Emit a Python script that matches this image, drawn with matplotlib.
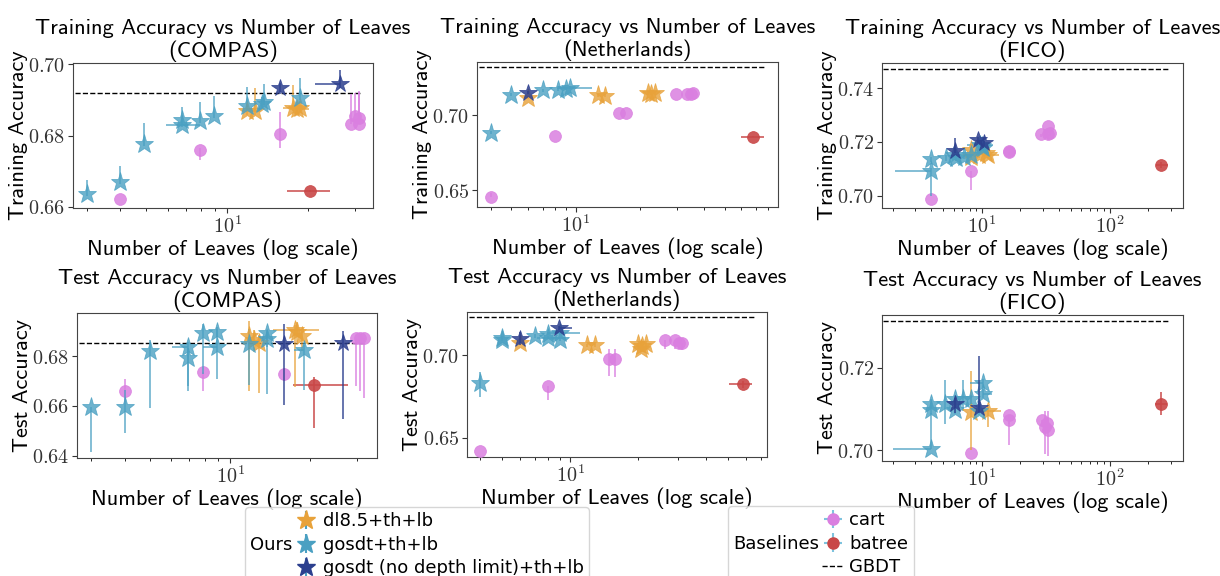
import matplotlib
matplotlib.use("Agg")
import matplotlib.pyplot as plt
from matplotlib.ticker import FuncFormatter, NullFormatter, FixedLocator
from matplotlib.offsetbox import HPacker
from matplotlib.lines import Line2D
import numpy as np

plt.rcParams['mathtext.fontset'] = 'cm'
plt.rcParams['axes.unicode_minus'] = False

# ---------------- data: (x, y, y_err_down, y_err_up, x_err_left, x_err_right)
compas_train_dl85 = [(11.9, 0.6868, 0.001, 0.002, 0.5, 0.5), (12.7, 0.6868, 0.001, 0.0065, 0.5, 0.6),
                     (17.6, 0.6878, 0.001, 0.0065, 1.5, 1.5), (18.2, 0.6874, 0.001, 0.002, 1.0, 2.0),
                     (18.7, 0.6877, 0.001, 0.002, 0.5, 0.5)]
compas_train_gosdt = [(3, 0.6634, 0.0005, 0.004, 0, 0), (4, 0.6669, 0.0005, 0.0045, 0, 0),
                      (4.9, 0.6776, 0.0005, 0.006, 0, 0), (6.8, 0.6844, 0.0005, 0.0035, 0, 0),
                      (6.8, 0.6829, 0.0005, 0.001, 0.9, 1.1), (7.9, 0.6841, 0.0005, 0.0052, 0, 0),
                      (8.9, 0.6855, 0.0005, 0.0057, 0, 0), (11.9, 0.6884, 0.0005, 0.0052, 0, 0),
                      (13.7, 0.6895, 0.001, 0.005, 0, 0), (13.5, 0.6888, 0.001, 0.002, 0, 0),
                      (18.7, 0.6906, 0.0005, 0.0055, 0, 0)]
compas_train_nodepth = [(15.8, 0.6933, 0.0015, 0.0015, 0, 0), (26.4, 0.6944, 0.001, 0.004, 5.1, 0)]
compas_train_cart = [(4, 0.6621, 0, 0, 0, 0), (7.9, 0.6760, 0.0028, 0.0005, 0, 0),
                     (15.8, 0.6803, 0.0038, 0.0062, 0, 0), (29, 0.6831, 0, 0.0085, 0, 0),
                     (30, 0.6855, 0, 0.0065, 0, 0), (31, 0.6849, 0, 0.0075, 0, 0), (31, 0.6831, 0, 0.009, 0, 0)]
compas_train_batree = [(20.4, 0.6644, 0.0002, 0.0002, 3.7, 3.8)]
compas_train_gbdt = 0.6919

neth_train_dl85 = [(6, 0.7117, 0.001, 0.001, 0, 0), (12.8, 0.7133, 0.001, 0.001, 0, 0),
                   (13.8, 0.7128, 0.001, 0.001, 0, 0), (21.9, 0.7144, 0.001, 0.001, 0, 0),
                   (23.6, 0.7144, 0.001, 0.001, 0, 0), (22.5, 0.7142, 0.001, 0.001, 0, 0)]
neth_train_gosdt = [(4, 0.6883, 0.001, 0.001, 0, 0), (5, 0.7137, 0.001, 0.001, 0, 0),
                    (7, 0.7166, 0.001, 0.001, 0, 0), (8.3, 0.7170, 0.001, 0.001, 0, 0),
                    (9.4, 0.7181, 0.001, 0.001, 1.2, 2.5), (9.0, 0.7175, 0.001, 0.001, 0, 0)]
neth_train_nodepth = [(6, 0.7150, 0.001, 0.001, 0, 0)]
neth_train_cart = [(4, 0.6456, 0, 0.0025, 0, 0), (8, 0.6858, 0, 0, 0, 0), (16, 0.7013, 0, 0, 0, 0),
                   (17.2, 0.7013, 0, 0, 0, 0), (29.6, 0.7139, 0, 0, 0, 0), (33.2, 0.7139, 0, 0, 0, 0),
                   (34.8, 0.7142, 0, 0, 0, 0), (35.7, 0.7144, 0, 0, 0, 0)]
neth_train_batree = [(68, 0.6856, 0.0005, 0.0005, 8, 8.6)]
neth_train_gbdt = 0.7321

fico_train_dl85 = [(8.2, 0.7170, 0.001, 0.001, 0, 0), (8.2, 0.7146, 0.001, 0.001, 0, 0),
                   (11.1, 0.7152, 0.001, 0.001, 1.0, 2.5), (10.8, 0.7160, 0.001, 0.001, 0, 0),
                   (9.5, 0.7150, 0.001, 0.001, 0, 0)]
fico_train_gosdt = [(4, 0.7093, 0.0093, 0.001, 1.9, 0), (4, 0.7136, 0.001, 0.001, 0, 0),
                    (5.2, 0.7140, 0.001, 0.001, 0, 0), (6.3, 0.7140, 0.001, 0.001, 0, 0),
                    (6.0, 0.7150, 0.001, 0.001, 0, 0), (7.3, 0.7146, 0.001, 0.001, 0, 0),
                    (8.2, 0.7152, 0.001, 0.001, 0, 0), (10, 0.7185, 0.001, 0.001, 0, 0),
                    (10.2, 0.7177, 0.001, 0.001, 0, 0), (9.6, 0.7190, 0.001, 0.001, 2.0, 2.5)]
fico_train_nodepth = [(6.1, 0.7168, 0.001, 0.0045, 0, 0), (9.3, 0.7207, 0.001, 0.001, 0, 0),
                      (10.4, 0.7195, 0.001, 0.001, 0, 0)]
fico_train_cart = [(4, 0.6988, 0, 0, 0, 0), (8.2, 0.7093, 0.0070, 0, 0, 0), (16.3, 0.7167, 0, 0, 0, 0),
                   (16.3, 0.7162, 0.001, 0, 0, 0), (29, 0.7230, 0.001, 0, 0, 0), (32.9, 0.7259, 0, 0, 0, 0),
                   (33, 0.7228, 0.002, 0, 0, 0), (34, 0.7232, 0.001, 0, 0, 0)]
fico_train_batree = [(254, 0.7115, 0.001, 0.001, 25, 30)]
fico_train_gbdt = 0.7472

compas_test_dl85 = [(11.8, 0.6880, 0.022, 0.006, 0, 0), (12.8, 0.6853, 0.020, 0.003, 0, 0),
                    (12.3, 0.6865, 0.004, 0.004, 0, 0), (17.5, 0.6904, 0.023, 0.002, 3, 4),
                    (18.6, 0.6880, 0.006, 0.002, 0, 0), (17.8, 0.6895, 0.004, 0.004, 0, 0)]
compas_test_gosdt = [(3, 0.6597, 0.018, 0, 0, 0), (4, 0.6597, 0.0105, 0.0067, 0, 0),
                     (4.97, 0.6821, 0.0228, 0.0045, 0, 0), (6.93, 0.6835, 0.0157, 0.002, 0.9, 0),
                     (6.93, 0.6791, 0.013, 0.004, 0, 0), (7.9, 0.6893, 0.0163, 0.0037, 0, 0),
                     (8.9, 0.6897, 0.002, 0.002, 0, 0), (8.9, 0.6837, 0.0127, 0.0073, 1.0, 0),
                     (11.8, 0.6847, 0.0162, 0.006, 0, 0), (13.7, 0.6891, 0.0245, 0.0013, 0, 0),
                     (13.7, 0.6867, 0.003, 0.003, 0, 0), (18.9, 0.6824, 0.016, 0.002, 1.5, 0)]
compas_test_nodepth = [(15.9, 0.6847, 0.0243, 0.0083, 0, 0), (26.5, 0.6851, 0.0305, 0.0049, 0, 0)]
compas_test_cart = [(4, 0.6661, 0.0045, 0.0049, 0, 0), (7.9, 0.6735, 0.0077, 0, 0, 0),
                    (15.9, 0.6728, 0, 0, 0, 0), (29.8, 0.6873, 0.0195, 0, 0, 0),
                    (30.8, 0.6873, 0.0215, 0, 0, 0), (31.7, 0.6873, 0.024, 0, 0, 0)]
compas_test_batree = [(20.7, 0.6684, 0.0173, 0.0033, 3.5, 7)]
compas_test_gbdt = 0.6853

neth_test_dl85 = [(6, 0.7075, 0.001, 0.001, 0, 0), (11.9, 0.7061, 0.001, 0.001, 0, 0),
                  (12.9, 0.7061, 0.001, 0.001, 0, 0), (19.9, 0.7067, 0.001, 0.001, 0, 0),
                  (20.6, 0.7040, 0.001, 0.001, 0, 0), (21.7, 0.7067, 0.001, 0.001, 0, 0),
                  (20.8, 0.7055, 0.001, 0.001, 0, 0)]
neth_test_gosdt = [(4, 0.6832, 0.0085, 0.0067, 0, 0), (5, 0.7107, 0.001, 0.001, 0, 0),
                   (5, 0.7095, 0.001, 0.001, 0, 0), (7, 0.7117, 0.001, 0.001, 0, 0),
                   (8, 0.7132, 0.001, 0.001, 0, 0), (8, 0.7107, 0.001, 0.001, 0.9, 1.5),
                   (9, 0.7136, 0.001, 0.001, 1, 2), (9, 0.7095, 0.001, 0.001, 0, 0)]
neth_test_nodepth = [(6, 0.7101, 0.004, 0.004, 0, 0), (8.9, 0.7166, 0.001, 0.001, 0, 1.3)]
neth_test_cart = [(4, 0.6421, 0, 0, 0, 0), (8, 0.6814, 0.0087, 0, 0, 0), (14.8, 0.6976, 0.0099, 0.0065, 0, 0),
                  (15.8, 0.6976, 0.0105, 0.0065, 0, 0), (26.3, 0.7091, 0.005, 0, 0, 0),
                  (29.1, 0.7091, 0.005, 0, 0, 0), (30.2, 0.7077, 0.004, 0, 0, 0), (31.2, 0.7075, 0.004, 0, 0, 0)]
neth_test_batree = [(58, 0.6824, 0.002, 0.002, 7.4, 5.9)]
neth_test_gbdt = 0.7233

fico_test_dl85 = [(8.2, 0.7093, 0.0093, 0.0098, 0, 0), (11.1, 0.7095, 0.004, 0.001, 1, 3)]
fico_test_gosdt = [(4, 0.7002, 0, 0.0088, 2, 0), (4, 0.7113, 0.001, 0.001, 0, 0),
                   (4, 0.7098, 0.001, 0.001, 0, 0), (5.1, 0.7113, 0.005, 0.0057, 0, 0),
                   (6.1, 0.7123, 0.001, 0.001, 0, 0), (6.1, 0.7098, 0.001, 0.001, 0, 0),
                   (7.1, 0.7125, 0.003, 0.0045, 0, 0), (8.2, 0.7123, 0.001, 0.001, 0, 0),
                   (9.4, 0.7096, 0.001, 0.001, 0, 0), (10.1, 0.7163, 0.001, 0.001, 2.1, 0),
                   (10.1, 0.7137, 0.001, 0.001, 0, 1.9)]
fico_test_nodepth = [(6.1, 0.7111, 0.002, 0.0015, 0, 0), (9.4, 0.7101, 0.001, 0.0126, 0, 0)]
fico_test_cart = [(8.2, 0.6994, 0, 0, 0, 0), (16.2, 0.7085, 0.0072, 0, 0, 0), (16.2, 0.7074, 0.001, 0, 0, 0),
                  (29.4, 0.7074, 0.001, 0, 0, 0), (31.2, 0.7056, 0.0064, 0.004, 0, 0),
                  (32.5, 0.7065, 0.001, 0.001, 0, 0), (32.8, 0.7050, 0.0063, 0.0046, 0, 0)]
fico_test_batree = [(251, 0.7113, 0.0028, 0.0028, 25, 30)]
fico_test_gbdt = 0.7312

datasets = ["COMPAS", "Netherlands", "FICO"]
y_ticks = [[0.66, 0.68, 0.70], [0.65, 0.70], [0.70, 0.72, 0.74],
           [0.64, 0.66, 0.68], [0.65, 0.70], [0.70, 0.72]]

# ---------------- styling
C_DL = "#E8A23A"
C_GO = "#4AA0C2"
C_ND = "#2C3F8E"
C_CART = "#DA7FE0"
C_BAT = "#C94747"

TITLE_FONT = 'cmss10'
FS_TITLE = 16.2
FS_LABEL = 16
FS_TICK = 14.5

W, H = 1220, 576
fig = plt.figure(figsize=(W / 100, H / 100), dpi=100)

pix = [(73, 373, 63, 208), (477, 778, 62, 207), (882, 1183, 63, 208),
       (77, 377, 313, 458), (467, 767, 312, 457), (882, 1183, 315, 461)]
xlims = [(2.66, 35), (3.45, 89), (1.65, 375), (2.65, 35.6), (3.49, 74.2), (1.65, 375)]
ylims = [(0.6596, 0.7004), (0.6387, 0.7354), (0.6955, 0.7493),
         (0.6391, 0.6973), (0.6383, 0.7263), (0.6974, 0.7327)]

panels = [
    (compas_train_dl85, compas_train_gosdt, compas_train_nodepth, compas_train_cart, compas_train_batree, compas_train_gbdt),
    (neth_train_dl85, neth_train_gosdt, neth_train_nodepth, neth_train_cart, neth_train_batree, neth_train_gbdt),
    (fico_train_dl85, fico_train_gosdt, fico_train_nodepth, fico_train_cart, fico_train_batree, fico_train_gbdt),
    (compas_test_dl85, compas_test_gosdt, compas_test_nodepth, compas_test_cart, compas_test_batree, compas_test_gbdt),
    (neth_test_dl85, neth_test_gosdt, neth_test_nodepth, neth_test_cart, neth_test_batree, neth_test_gbdt),
    (fico_test_dl85, fico_test_gosdt, fico_test_nodepth, fico_test_cart, fico_test_batree, fico_test_gbdt),
]


def draw(ax, pts, color, marker, ms, alpha, z):
    if not pts:
        return
    a = np.array(pts, dtype=float)
    ax.errorbar(a[:, 0], a[:, 1], yerr=[a[:, 2], a[:, 3]], xerr=[a[:, 4], a[:, 5]],
                fmt=marker, color=color, ecolor=color, ms=ms, alpha=alpha, elinewidth=1.2,
                capsize=0, markeredgewidth=0.6, zorder=z, linestyle='none')


for i, (l, r, t, b) in enumerate(pix):
    ax = fig.add_axes([l / W, 1 - b / H, (r - l) / W, (b - t) / H])
    dl, go, nd, cart, bat, gb = panels[i]
    draw(ax, cart, C_CART, 'o', 8.5, 0.85, 3)
    draw(ax, bat, C_BAT, 'o', 8.5, 0.9, 3)
    draw(ax, dl, C_DL, '*', 14, 0.8, 4)
    draw(ax, go, C_GO, '*', 14, 0.8, 4)
    draw(ax, nd, C_ND, '*', 13, 0.85, 5)
    ax.set_xscale('log')
    ax.set_xlim(*xlims[i])
    ax.set_ylim(*ylims[i])
    allx = [p[0] + p[5] for grp in (dl, go, nd, cart, bat) for p in grp]
    ax.hlines(gb, xlims[i][0] * 1.02, max(allx) * 1.02, colors='k', linestyles='--', linewidth=1.0, zorder=2)
    ax.yaxis.set_major_locator(FixedLocator(y_ticks[i]))
    ax.yaxis.set_major_formatter(FuncFormatter(lambda v, p: r"$%.2f$" % v))
    ax.xaxis.set_major_formatter(FuncFormatter(lambda v, p: r"$10^{%d}$" % int(round(np.log10(v)))))
    ax.xaxis.set_minor_formatter(NullFormatter())
    ax.tick_params(labelsize=FS_TICK, colors='#333333', labelcolor='#333333', pad=2)
    for s in ax.spines.values():
        s.set_color('#444444')
    kind = "Training" if i < 3 else "Test"
    ax.set_title(f"{kind} Accuracy vs Number of Leaves\n({datasets[i % 3]})",
                 fontsize=FS_TITLE, family=TITLE_FONT, linespacing=1.15, pad=4)
    ax.set_xlabel("Number of Leaves (log scale)", fontsize=FS_LABEL, family=TITLE_FONT, labelpad=1)
    ax.set_ylabel(f"{kind} Accuracy", fontsize=FS_LABEL, family=TITLE_FONT, labelpad=0)

# ---------------- legends
hax = fig.add_axes([0.0, 0.0, 0.001, 0.001])
hax.set_visible(False)
h_dl = hax.errorbar([1], [1], yerr=[[0.1], [0.1]], fmt='*', color=C_DL, ecolor=C_GO, ms=14)
h_go = hax.errorbar([1], [1], yerr=[[0.1], [0.1]], fmt='*', color=C_GO, ecolor=C_GO, ms=14)
h_nd = hax.errorbar([1], [1], yerr=[[0.1], [0.1]], fmt='*', color=C_ND, ecolor=C_GO, ms=14)
h_cart = hax.errorbar([1], [1], yerr=[[0.1], [0.1]], xerr=[[0.1], [0.1]], fmt='o', color=C_CART, ecolor='#7EC3DE', ms=8)
h_bat = hax.errorbar([1], [1], yerr=[[0.1], [0.1]], xerr=[[0.1], [0.1]], fmt='o', color=C_BAT, ecolor='#7EC3DE', ms=8)
h_gb = Line2D([0], [0], color='k', linestyle='--', linewidth=1.0)


def side_title_legend(handles, labels, title, anchor):
    leg = fig.legend(handles, labels, loc='upper left', bbox_to_anchor=anchor, fontsize=13,
                     title=title, title_fontsize=13, frameon=True, labelspacing=0.3,
                     handletextpad=0.3, handlelength=1.2, borderpad=0.3, borderaxespad=0)
    fs = leg._fontsize
    box = HPacker(pad=leg.borderpad * fs, sep=0.15 * fs, align='center',
                  children=[leg._legend_title_box, leg._legend_handle_box])
    box.set_figure(fig)
    box.set_offset(leg._findoffset)
    leg._legend_box = box
    leg.get_frame().set_edgecolor('#cccccc')
    return leg


side_title_legend([h_dl, h_go, h_nd], ["dl8.5+th+lb", "gosdt+th+lb", "gosdt (no depth limit)+th+lb"],
                  "Ours", (245 / W, 1 - 507 / H))
side_title_legend([h_cart, h_bat, h_gb], ["cart", "batree", "GBDT"],
                  "Baselines", (728 / W, 1 - 506 / H))

fig.savefig("out.png", dpi=100)
